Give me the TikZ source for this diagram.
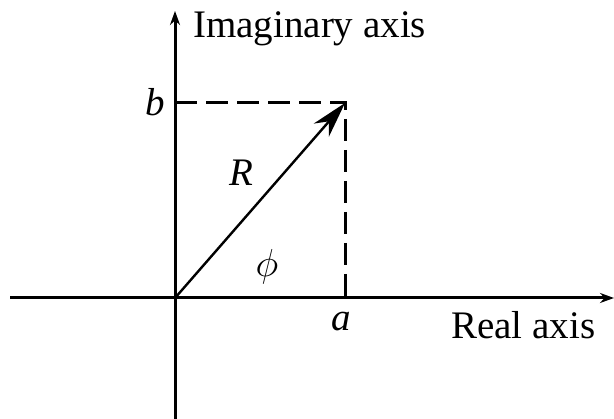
\documentclass[tikz,border=0pt]{standalone}
\usepackage{fix-cm}
\usepackage{fontspec}
\setmainfont{Liberation Serif}
\usetikzlibrary{arrows.meta}
\begin{document}
\begin{tikzpicture}[x=1pt,y=-1pt,
  axis/.style={line width=3pt,-{Stealth[length=14pt,width=10pt]}},
  dashline/.style={line width=3pt,dash pattern=on 22pt off 9pt},
  vec/.style={line width=2.4pt,-{Stealth[length=36pt,width=20pt]}},
  lbl/.style={font=\fontsize{39}{39}\selectfont,inner sep=0pt},
  mlbl/.style={font=\fontsize{39}{39}\selectfont\itshape,inner sep=0pt}]
\useasboundingbox (0,0) rectangle (614,419);
\coordinate (O) at (175,298);
\coordinate (xl) at (10,298);
\coordinate (xr) at (614,298);
\coordinate (yb) at (175,419);
\coordinate (yt) at (175,11);
\coordinate (P) at (345,103);
\coordinate (Pb) at (175,103);
\coordinate (Pa) at (345,298);
\draw[axis] (xl) -- (xr);
\draw[axis] (yb) -- (yt);
\draw[dashline] (Pb) -- (P) -- (Pa);
\draw[vec] (O) -- (P);
\node[lbl,anchor=base west] (im) at (193,38) {Imaginary axis};
\node[lbl,anchor=base west] (re) at (451,339) {Real axis};
\node[mlbl] (b) at (155,102) {b};
\node[mlbl] (a) at (341,322) {a};
\node[mlbl,anchor=base] (R) at (241,186) {R};
\node[lbl] (phi) at (267,267) {$\phi$};
\end{tikzpicture}
\end{document}
